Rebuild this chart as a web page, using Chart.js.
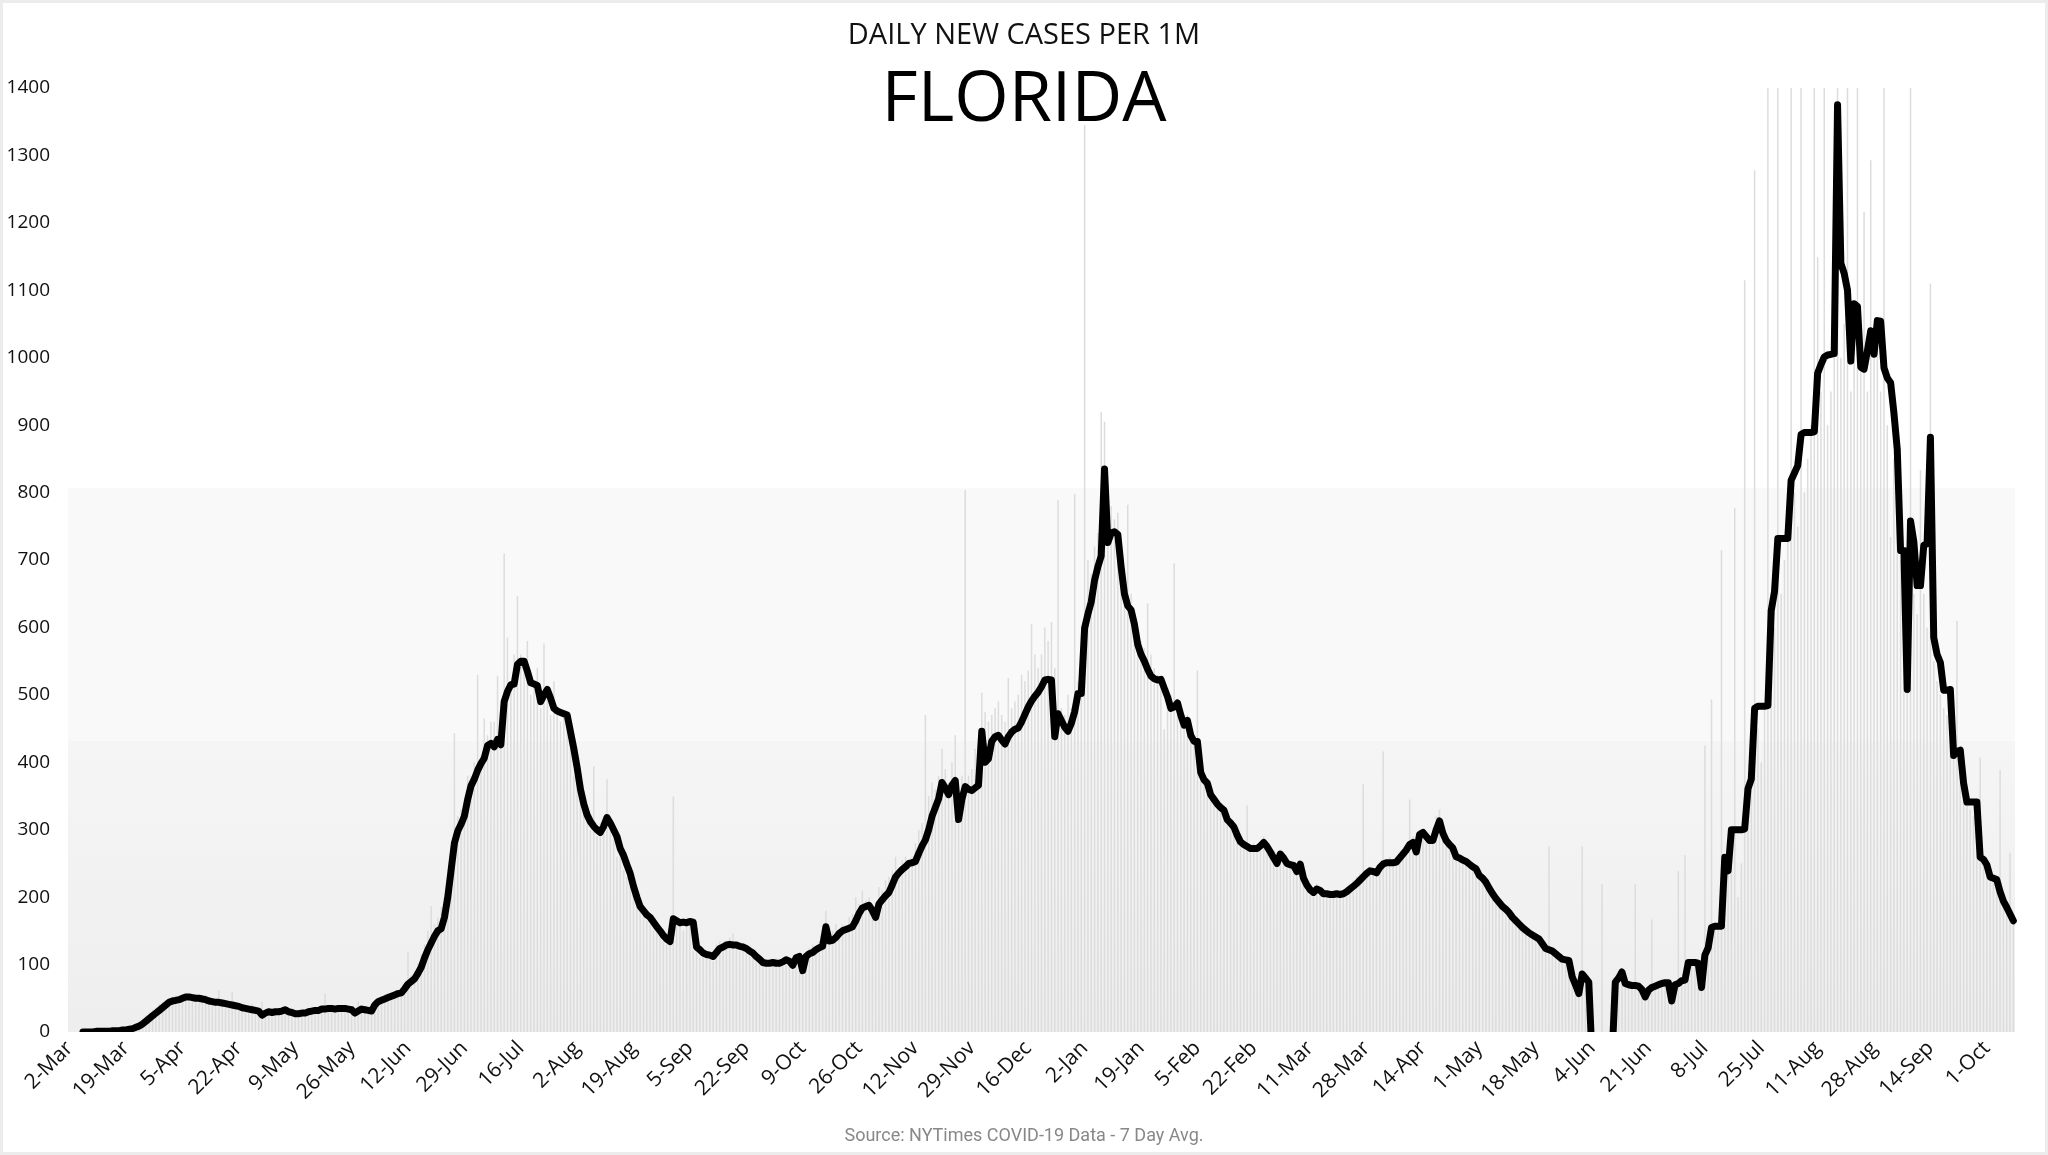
<!DOCTYPE html>
<html>
<head>
<meta charset="utf-8">
<title>Florida daily new cases per 1M</title>
<script src="https://cdn.jsdelivr.net/npm/chart.js@4.4.0/dist/chart.umd.min.js"></script>
<style>
  html, body { margin: 0; padding: 0; background: #fff; }
  #chart { position: absolute; left: 0; top: 0; }
  #frame {
    position: absolute; left: 0; top: 0; width: 2048px; height: 1155px;
    box-sizing: border-box; border: 3px solid #ececec; pointer-events: none;
  }
  .txt { position: absolute; left: 0; width: 2048px; text-align: center; white-space: nowrap; }
  #sub { top: 15px; font: 29px/36px 'Open Sans', sans-serif; color: #111; }
  #state { top: 54px; font: 70px/80px 'Open Sans', sans-serif; color: #000; }
  #source { top: 1124px; font: 18px/22px Roboto, sans-serif; color: #888; }
</style>
</head>
<body>
<canvas id="chart" width="2048" height="1155"></canvas>
<div class="txt" id="sub">DAILY NEW CASES PER 1M</div>
<div class="txt" id="state">FLORIDA</div>
<div class="txt" id="source">Source: NYTimes COVID-19 Data - 7 Day Avg.</div>
<div id="frame"></div>
<script>
// first day on the axis, label every 17th day
var START = [2020, 2, 2];
var TICK_EVERY = 17;
var MONTHS = ['Jan','Feb','Mar','Apr','May','Jun','Jul','Aug','Sep','Oct','Nov','Dec'];

// light background bands (per 1M)
var BAND_HIGH = 807;
var BAND_LOW = 432;

// 7 day average per 1M, one value per day
var avg7 = [
  null,null,null,null,0,0,0,0,1,1,
  1,1,1,2,2,2,3,3,4,5,
  7,9,12,16,20,24,28,32,36,40,
  44,46,47,48,50,52,52,51,50,50,
  49,48,46,45,44,44,43,42,41,40,
  39,38,36,35,34,33,32,31,25,28,
  30,29,30,30,31,33,30,29,27,27,
  28,28,30,31,32,32,34,34,35,35,
  34,35,35,35,34,33,28,31,34,33,
  32,31,40,45,47,49,51,53,55,57,
  58,64,71,75,79,87,96,110,122,132,
  142,150,153,170,200,240,280,298,308,320,
  345,365,375,388,398,406,425,428,423,434,
  426,490,505,515,516,545,550,550,535,518,
  516,514,490,500,508,495,480,476,474,472,
  470,445,420,392,360,338,322,312,305,300,
  296,305,318,310,300,290,272,262,248,235,
  216,200,186,180,174,170,163,156,150,143,
  138,134,168,165,162,163,162,164,163,126,
  122,117,115,114,112,118,124,126,129,130,
  129,129,127,126,124,120,117,112,108,103,
  102,102,103,102,102,104,107,105,99,110,
  112,91,112,116,118,122,125,127,156,135,
  136,140,146,150,152,154,156,165,176,184,
  186,188,180,170,190,196,202,207,218,230,
  236,241,245,250,251,253,265,276,285,300,
  320,333,346,370,362,352,366,373,315,345,
  364,360,358,362,366,446,400,405,431,438,
  440,433,427,438,445,449,451,460,471,482,
  491,498,504,512,522,523,522,438,472,462,
  452,446,458,475,502,502,599,620,638,670,
  690,706,835,726,740,742,738,690,650,632,
  626,605,575,560,550,538,528,524,522,523,
  510,497,480,482,488,470,455,462,440,431,
  431,385,374,369,352,345,338,333,329,315,
  310,304,292,282,278,275,272,272,272,276,
  281,275,267,258,250,264,258,250,248,247,
  238,249,228,218,211,207,212,210,205,205,
  204,204,205,204,205,208,212,216,220,225,
  230,235,239,238,236,244,249,251,251,251,
  252,258,264,270,278,281,267,293,296,290,
  284,284,300,313,295,284,278,273,260,258,
  255,253,249,245,242,232,228,222,213,205,
  198,192,186,182,177,170,165,160,155,151,
  147,144,141,138,131,124,122,120,116,112,
  108,107,106,82,70,57,86,80,74,-40,
  -40,-40,-40,-40,-40,-40,74,80,89,72,
  70,69,69,68,63,52,62,66,68,70,
  72,73,73,46,70,72,76,77,103,103,
  103,102,66,114,125,155,157,157,157,259,
  239,300,300,300,300,301,361,375,480,483,
  483,483,484,625,653,732,732,732,732,818,
  829,840,886,889,889,889,890,977,990,1001,
  1004,1005,1006,1375,1140,1125,1100,995,1080,1076,
  986,983,1010,1040,1005,1055,1054,985,970,963,
  918,864,714,714,508,758,727,662,662,722,
  724,882,585,560,548,507,507,508,410,416,
  418,369,341,341,341,341,259,256,248,230,
  228,226,208,194,185,175,165
];

// daily new cases per 1M (bars above 1400 are cut at the top)
var daily = [
  0,0,0,0,0,0,1,1,1,1,
  1,2,2,2,3,4,5,6,8,10,
  13,15,19,25,28,33,36,42,44,47,
  50,52,55,48,55,58,50,48,52,46,
  49,55,42,44,47,62,40,42,45,60,
  38,40,35,32,38,42,30,33,45,28,
  30,32,35,28,34,36,25,30,28,32,
  27,30,34,36,32,35,38,57,34,38,
  36,34,37,40,35,30,30,45,38,34,
  30,35,48,50,52,56,48,58,60,62,
  66,72,119,84,90,102,115,130,150,187,
  160,170,185,200,230,270,443,320,330,340,
  380,380,400,530,410,465,440,460,460,528,
  420,710,585,520,560,647,560,540,580,500,
  520,540,480,576,500,470,520,480,460,470,
  450,440,380,368,360,330,320,300,394,290,
  310,300,375,300,290,260,270,240,230,220,
  210,190,185,175,165,160,150,150,145,140,
  130,130,349,160,165,150,170,160,120,125,
  110,115,120,110,105,130,135,125,130,140,
  146,130,120,125,120,115,110,105,100,100,
  105,95,100,110,105,100,112,100,95,115,
  110,85,120,125,130,120,135,130,180,140,
  150,160,150,160,155,170,175,200,190,210,
  195,200,180,170,215,210,225,230,240,260,
  240,255,260,250,260,280,300,310,470,350,
  370,360,380,420,390,370,400,440,340,380,
  804,380,390,420,430,503,475,460,470,480,
  490,470,460,525,480,490,500,530,520,536,
  605,560,540,560,600,580,608,540,789,480,
  470,500,480,798,520,560,1345,700,680,720,
  740,920,905,760,780,760,770,700,680,782,
  650,620,600,580,570,636,560,540,530,520,
  449,510,500,695,470,480,460,470,450,440,
  536,400,380,370,360,350,340,330,336,320,
  310,300,300,290,280,336,270,280,270,280,
  290,275,265,260,250,270,260,250,245,250,
  240,235,230,220,215,210,220,205,210,200,
  205,210,200,205,210,215,220,225,230,235,
  368,240,245,235,240,250,416,255,260,250,
  255,265,270,280,345,290,270,300,300,290,
  285,290,320,330,300,290,280,270,265,260,
  255,255,250,245,240,230,225,220,210,205,
  195,190,185,180,175,170,165,160,155,150,
  150,145,140,140,135,130,275,125,120,115,
  110,108,105,90,70,60,275,80,75,0,
  0,0,219,0,0,0,75,80,90,70,
  70,70,219,65,55,60,65,167,68,70,
  72,73,70,50,72,239,76,262,100,105,
  103,100,70,425,130,493,160,157,715,160,
  240,300,777,200,250,1115,300,380,1278,450,
  400,480,1400,500,600,1400,650,700,750,1400,
  800,750,1400,800,850,900,1400,1149,950,1400,
  900,950,1000,1400,1000,1050,1400,950,1000,1400,
  1000,1216,950,1293,1000,1050,950,1400,900,734,
  850,800,700,650,600,1400,650,620,833,650,
  600,1110,550,520,500,480,470,460,420,610,
  400,380,350,330,320,300,407,260,250,240,
  230,220,389,200,190,266,170
];

// one label per day: "2-Mar", "3-Mar", ...
var days = [];
for (var i = 0; i < avg7.length; i++) {
  var d = new Date(Date.UTC(START[0], START[1], START[2] + i));
  days.push(d.getUTCDate() + '-' + MONTHS[d.getUTCMonth()]);
}

var bands = {
  id: 'bands',
  beforeDatasetsDraw: function(chart) {
    var ctx = chart.ctx, a = chart.chartArea, y = chart.scales.y;
    var yHigh = y.getPixelForValue(BAND_HIGH);
    var yLow = y.getPixelForValue(BAND_LOW);
    var y0 = y.getPixelForValue(0);
    ctx.save();
    ctx.fillStyle = '#f9f9f9';
    ctx.fillRect(a.left, yHigh, a.right - a.left, yLow - yHigh);
    var g = ctx.createLinearGradient(0, yLow, 0, y0);
    g.addColorStop(0, '#f5f5f5');
    g.addColorStop(1, '#eeeeee');
    ctx.fillStyle = g;
    ctx.fillRect(a.left, yLow, a.right - a.left, y0 - yLow);
    ctx.restore();
  }
};

Chart.defaults.font.family = "'Open Sans', sans-serif";

var ctx = document.getElementById('chart').getContext('2d');
var chart = new Chart(ctx, {
  type: 'bar',
  data: {
    labels: days,
    datasets: [{
      type: 'line',
      label: '7 Day Avg.',
      data: avg7,
      borderColor: '#000',
      borderWidth: 7,
      pointRadius: 0,
      tension: 0,
      borderJoinStyle: 'round',
      borderCapStyle: 'round',
      order: 1
    }, {
      type: 'bar',
      label: 'Daily',
      data: daily,
      backgroundColor: '#dcdcdc',
      barPercentage: 0.45,
      categoryPercentage: 1,
      order: 2
    }]
  },
  options: {
    responsive: false,
    animation: false,
    layout: { padding: { left: 8, right: 33, top: 88, bottom: 48 } },
    plugins: {
      legend: { display: false },
      tooltip: { enabled: false },
      title: { display: false }
    },
    scales: {
      x: {
        grid: { display: false, drawTicks: false },
        border: { display: false },
        afterFit: function(scale) { scale.height = 75; },
        ticks: {
          autoSkip: false,
          minRotation: 45,
          maxRotation: 45,
          padding: 4,
          color: '#111',
          font: { size: 21 },
          callback: function(value, index) {
            return index % TICK_EVERY === 0 ? this.getLabelForValue(value) : '';
          }
        }
      },
      y: {
        min: 0,
        max: 1400,
        grid: { display: false, drawTicks: false },
        border: { display: false },
        afterFit: function(scale) { scale.width = 60; },
        ticks: {
          stepSize: 100,
          padding: 18,
          color: '#111',
          font: { size: 19 },
          callback: function(value) { return String(value); }
        }
      }
    }
  },
  plugins: [bands]
});
</script>
</body>
</html>
